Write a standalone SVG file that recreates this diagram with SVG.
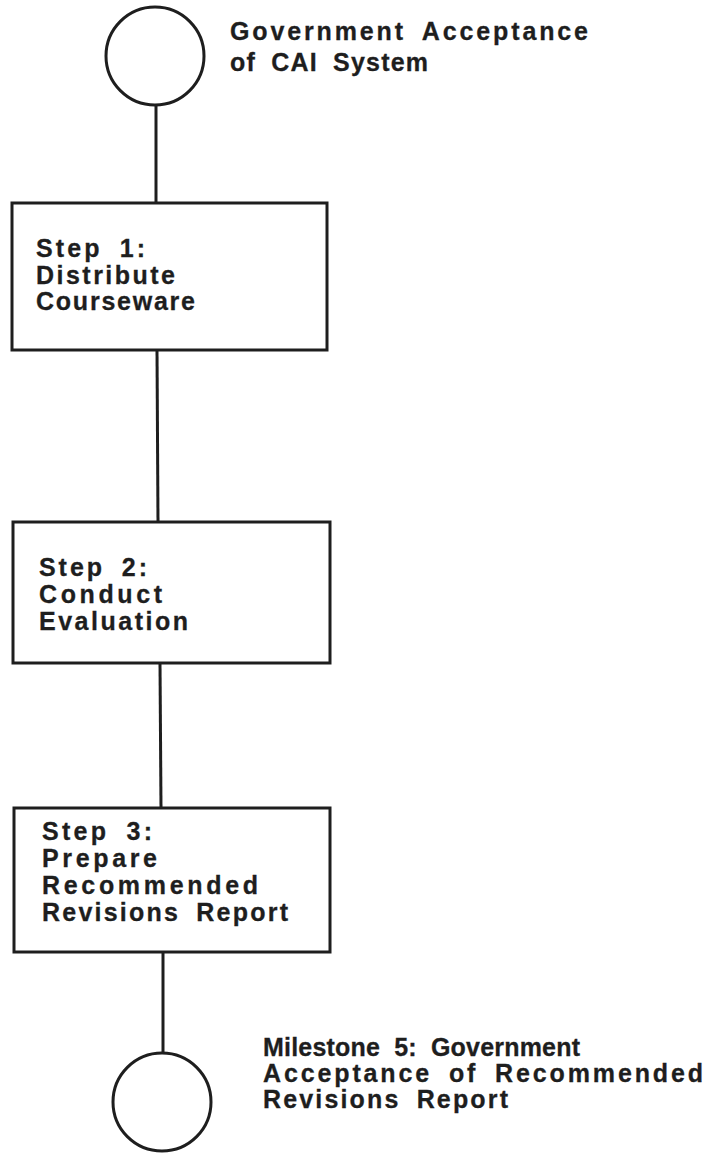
<svg xmlns="http://www.w3.org/2000/svg" width="709" height="1154" viewBox="0 0 709 1154">
  <style>
    .shape { fill: #ffffff; stroke: #1e1e1e; stroke-width: 3; }
    .link { fill: none; stroke: #1e1e1e; stroke-width: 3; }
    .lbl { font-family: "Liberation Sans", Arial, sans-serif; font-weight: bold; font-size: 25px; word-spacing: 7px; fill: #1e1e1e; stroke: #1e1e1e; stroke-width: 0.3; }
  </style>
  <rect width="709" height="1154" fill="#ffffff"/>

  <!-- connectors between the milestones and steps -->
  <g id="connectors">
    <line class="link" x1="156" y1="105" x2="156" y2="203"/>
    <line class="link" x1="157" y1="350" x2="158" y2="522"/>
    <line class="link" x1="160" y1="663" x2="161" y2="808"/>
    <line class="link" x1="163" y1="952" x2="163" y2="1053"/>
  </g>

  <!-- start milestone -->
  <g id="start">
    <circle class="shape" cx="155" cy="56" r="49"/>
    <text class="lbl" x="230" y="40" textLength="358" lengthAdjust="spacing">Government Acceptance</text>
    <text class="lbl" x="230" y="71" textLength="198" lengthAdjust="spacing">of CAI System</text>
  </g>

  <!-- step 1 -->
  <g id="step1">
    <rect class="shape" x="12" y="203" width="315" height="147"/>
    <text class="lbl" x="36" y="257" textLength="109" lengthAdjust="spacing">Step 1:</text>
    <text class="lbl" x="36" y="284" textLength="139" lengthAdjust="spacing">Distribute</text>
    <text class="lbl" x="36" y="310" textLength="159" lengthAdjust="spacing">Courseware</text>
  </g>

  <!-- step 2 -->
  <g id="step2">
    <rect class="shape" x="13" y="522" width="317" height="141"/>
    <text class="lbl" x="39" y="576" textLength="108" lengthAdjust="spacing">Step 2:</text>
    <text class="lbl" x="39" y="603" textLength="123" lengthAdjust="spacing">Conduct</text>
    <text class="lbl" x="39" y="630" textLength="149" lengthAdjust="spacing">Evaluation</text>
  </g>

  <!-- step 3 -->
  <g id="step3">
    <rect class="shape" x="14" y="808" width="316" height="144"/>
    <text class="lbl" x="42" y="840" textLength="110" lengthAdjust="spacing">Step 3:</text>
    <text class="lbl" x="42" y="867" textLength="115" lengthAdjust="spacing">Prepare</text>
    <text class="lbl" x="42" y="894" textLength="216" lengthAdjust="spacing">Recommended</text>
    <text class="lbl" x="42" y="921" textLength="246" lengthAdjust="spacing">Revisions Report</text>
  </g>

  <!-- final milestone -->
  <g id="milestone5">
    <circle class="shape" cx="162" cy="1102" r="49"/>
    <text class="lbl" x="263" y="1056" textLength="317" lengthAdjust="spacing">Milestone 5: Government</text>
    <text class="lbl" x="263" y="1082" textLength="440" lengthAdjust="spacing">Acceptance of Recommended</text>
    <text class="lbl" x="263" y="1108" textLength="245" lengthAdjust="spacing">Revisions Report</text>
  </g>
</svg>
